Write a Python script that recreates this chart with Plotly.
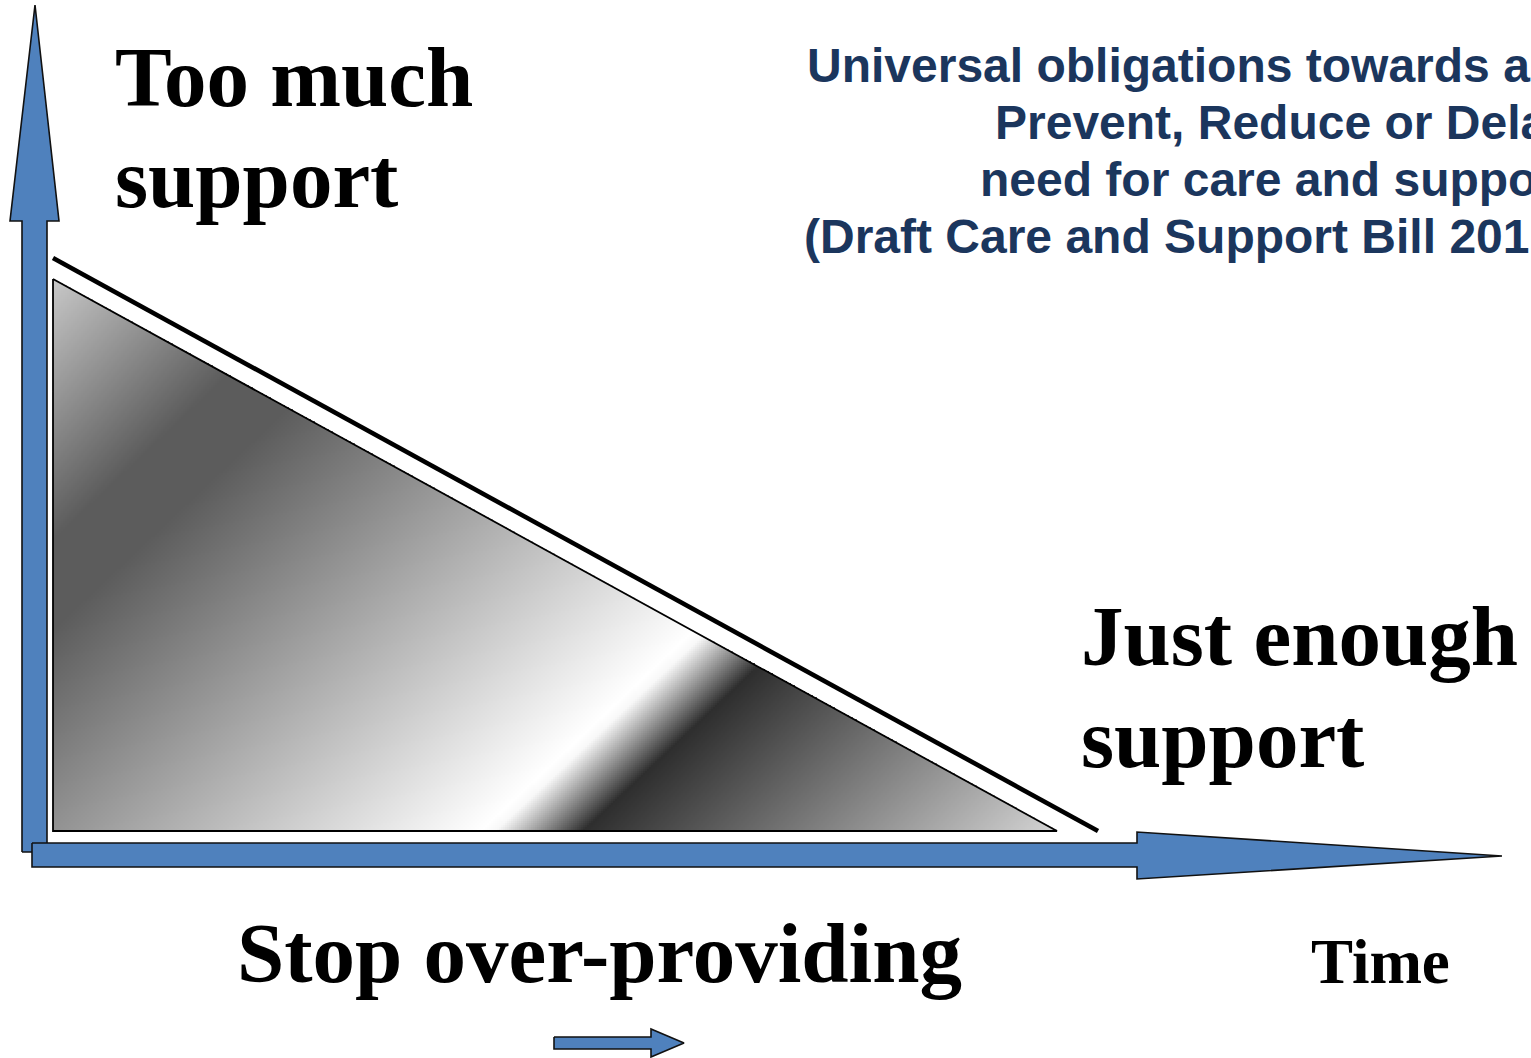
import numpy as np
import plotly.graph_objects as go

W, H = 1531, 1058

# ---- diagram geometry (pixel space of the slide) ----
tri_x = [53, 53, 1057]
tri_y = [279, 831, 831]
rule_x = [53, 1098]
rule_y = [258, 831]
v_arrow_x = [22, 22, 10, 35, 59, 47, 47]
v_arrow_y = [852, 221, 221, 5, 221, 221, 852]
h_arrow_x = [32, 1137, 1137, 1502, 1137, 1137, 32]
h_arrow_y = [843, 843, 832, 856, 879, 867, 867]
s_arrow_x = [554, 651, 651, 684, 651, 651, 554]
s_arrow_y = [1037, 1037, 1029, 1043, 1057, 1049, 1049]

# ---- gradient stops across the triangle (distance along diagonal, grey level) ----
grad_pos = [0, 190, 255, 695, 705, 765, 1090]
grad_grey = [200, 92, 92, 255, 248, 46, 212]
grad_dir = [0.685, 0.728]

# ---- text ----
black_labels = ["Too much", "support", "Just enough", "support", "Stop over-providing"]
black_x = [115, 115, 1081, 1081, 237]
black_base = [106, 207, 665, 767, 982]
black_size = [85, 85, 85, 85, 85]
time_label = "Time"
time_x, time_base, time_size = 1311, 983, 63
blue_labels = ["Universal obligations towards a",
               "Prevent, Reduce or Dela",
               "need for care and suppo",
               "(Draft Care and Support Bill 201"]
blue_x = [807, 995, 980, 804]
blue_base = [82, 139, 196, 253]
blue_size = 48

BLUE = "#4f81bd"
NAVY = "#1b365d"

fig = go.Figure()

# gradient-filled triangle via heatmap masked outside the triangle
step = 2
xs = np.arange(tri_x[0] + step / 2, tri_x[2], step)
ys = np.arange(tri_y[0] + step / 2, tri_y[1] + 0.5, step)
X, Y = np.meshgrid(xs, ys)
hyp = tri_y[0] + (X - tri_x[0]) * (tri_y[1] - tri_y[0]) / (tri_x[2] - tri_x[0])
T = (X - tri_x[0]) * grad_dir[0] + (Y - tri_y[0]) * grad_dir[1]
Z = np.where(Y >= hyp - 0.5, T, np.nan)
zmax = grad_pos[-1]
cscale = [[p / zmax, f"rgb({g},{g},{g})"] for p, g in zip(grad_pos, grad_grey)]
fig.add_trace(go.Heatmap(x=xs, y=ys, z=Z, colorscale=cscale, zmin=0, zmax=zmax,
                         showscale=False, hoverinfo="skip", zsmooth=False))

# triangle outline
fig.add_trace(go.Scatter(x=tri_x + [tri_x[0]], y=tri_y + [tri_y[0]], mode="lines",
                         line=dict(color="black", width=1.8), hoverinfo="skip"))
# diagonal rule
fig.add_trace(go.Scatter(x=rule_x, y=rule_y, mode="lines",
                         line=dict(color="black", width=4.6), hoverinfo="skip"))

# arrows
for ax_, ay_ in [(v_arrow_x, v_arrow_y), (h_arrow_x, h_arrow_y), (s_arrow_x, s_arrow_y)]:
    fig.add_trace(go.Scatter(x=ax_ + [ax_[0]], y=ay_ + [ay_[0]], mode="lines", fill="toself",
                             fillcolor=BLUE, line=dict(color="#111111", width=1.6),
                             hoverinfo="skip"))

MID = 0.245  # baseline offset (em) for middle-anchored text

for lab, x0, b, s in zip(black_labels, black_x, black_base, black_size):
    fig.add_trace(go.Scatter(x=[x0], y=[b - MID * s], mode="text", text=[lab],
                             textposition="middle right", hoverinfo="skip", cliponaxis=False,
                             textfont=dict(family="Liberation Serif", size=s,
                                           color="black", weight="bold")))
fig.add_trace(go.Scatter(x=[time_x], y=[time_base - MID * time_size], mode="text",
                         text=[time_label], textposition="middle right", hoverinfo="skip",
                         cliponaxis=False,
                         textfont=dict(family="Liberation Serif", size=time_size,
                                       color="black", weight="bold")))
for lab, x0, b in zip(blue_labels, blue_x, blue_base):
    fig.add_trace(go.Scatter(x=[x0], y=[b - MID * blue_size], mode="text", text=[lab],
                             textposition="middle right", hoverinfo="skip", cliponaxis=False,
                             textfont=dict(family="Liberation Sans", size=blue_size,
                                           color=NAVY, weight="bold")))

fig.update_layout(
    width=W, height=H, margin=dict(l=0, r=0, t=0, b=0),
    paper_bgcolor="white", plot_bgcolor="white", showlegend=False,
    xaxis=dict(range=[0, W], visible=False, fixedrange=True),
    yaxis=dict(range=[H, 0], visible=False, fixedrange=True),
)

fig.write_html("out.html", config={"displayModeBar": False},
               post_script="document.body.style.margin='0';document.body.style.overflow='hidden';")
